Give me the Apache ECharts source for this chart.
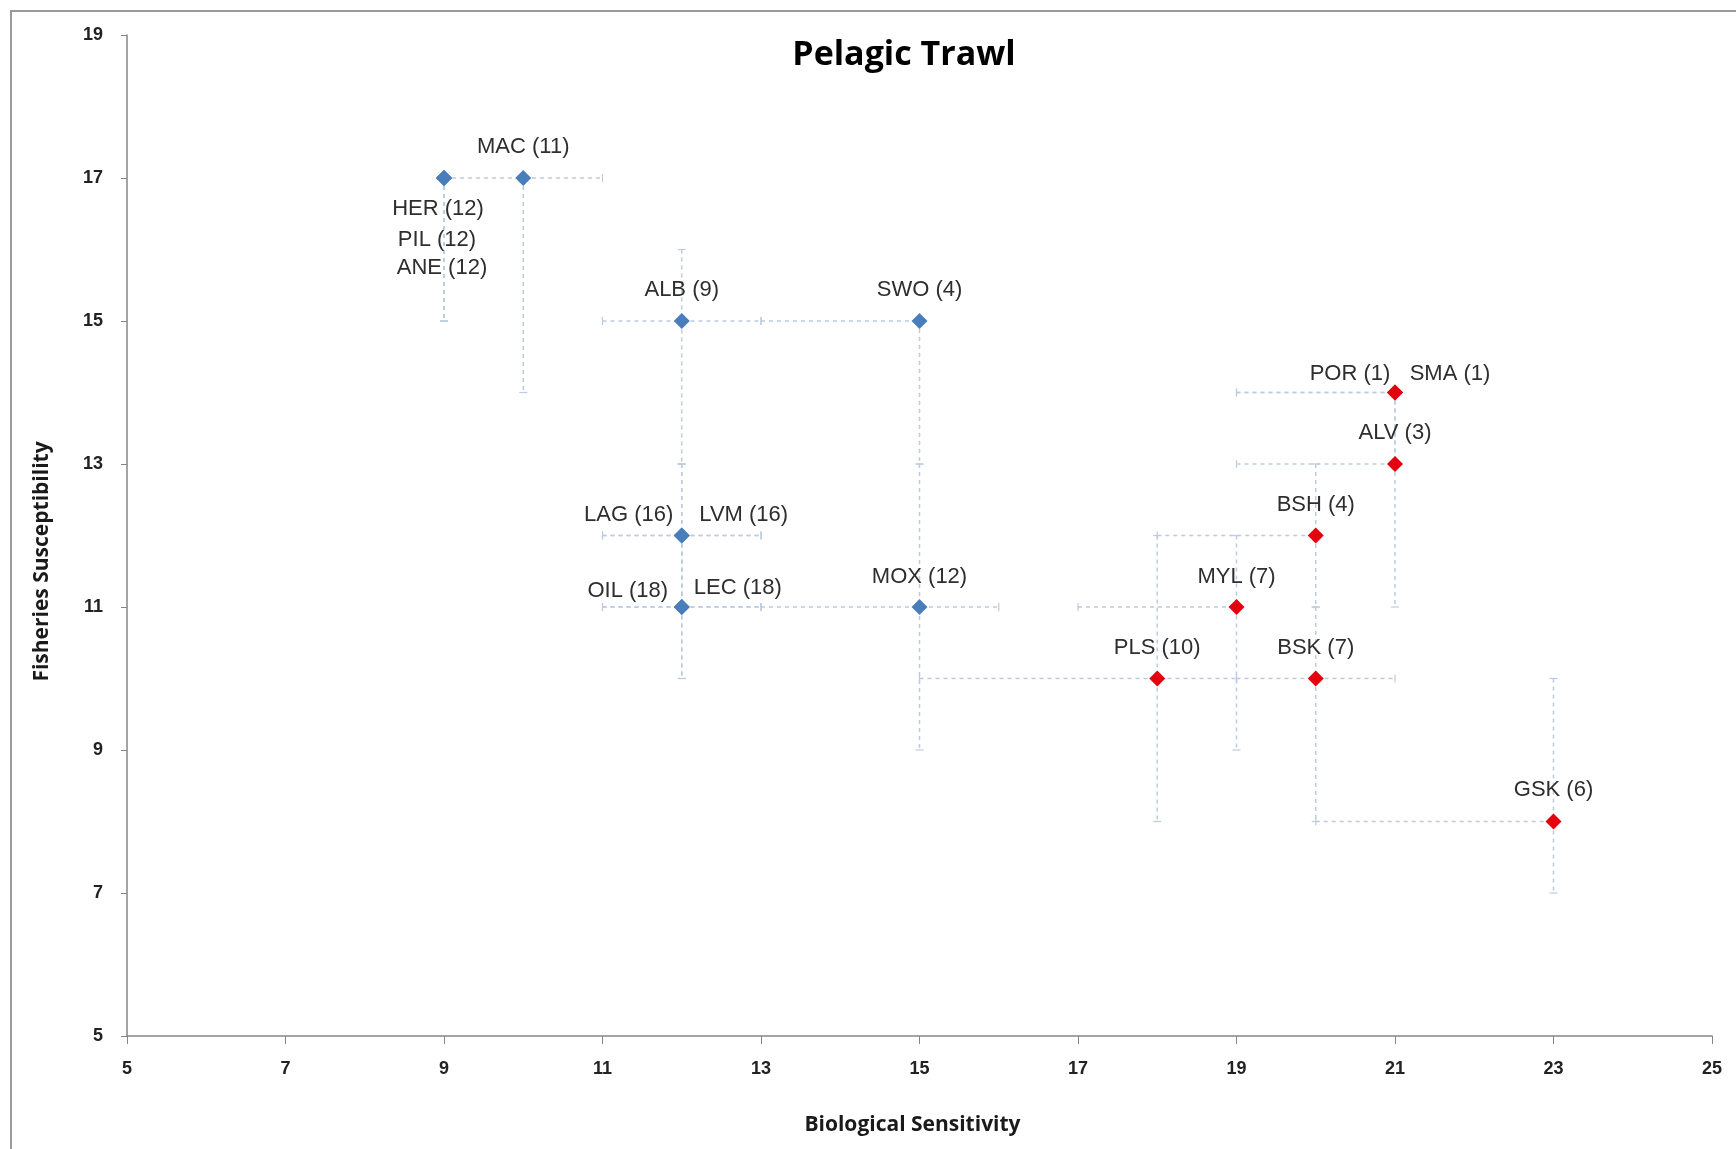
<!DOCTYPE html>
<html>
<head>
<meta charset="utf-8">
<title>Pelagic Trawl</title>
<script src="https://cdn.jsdelivr.net/npm/echarts@6/dist/echarts.min.js"></script>
<style>
  html, body { margin: 0; padding: 0; background: #ffffff; }
  #chart { width: 1736px; height: 1149px; }
</style>
</head>
<body>
<div id="chart"></div>
<script>
// Species codes with their rank (shown in brackets)
const species = ['MAC', 'HER', 'PIL', 'ANE', 'ALB', 'SWO', 'LAG', 'LVM', 'OIL', 'LEC', 'MOX',
                 'POR', 'SMA', 'ALV', 'BSH', 'MYL', 'PLS', 'BSK', 'GSK'];
const ranks = [11, 12, 12, 12, 9, 4, 16, 16, 18, 18, 12,
               1, 1, 3, 4, 7, 10, 7, 6];
// Elasmobranchs are drawn in red, all other species in blue
const isElasmobranch = [false, false, false, false, false, false, false, false, false, false, false,
                        true, true, true, true, true, true, true, true];

// Scores
const biologicalSensitivity = [10, 9, 9, 9, 12, 15, 12, 12, 12, 12, 15,
                               21, 21, 21, 20, 19, 18, 20, 23];
const fisheriesSusceptibility = [17, 17, 17, 17, 15, 15, 12, 12, 11, 11, 11,
                                 14, 14, 13, 12, 11, 10, 10, 8];

// Score ranges (error bars)
const biologicalLow  = [9, 9, 9, 9, 11, 13, 11, 11, 11, 11, 13,
                        19, 19, 19, 18, 17, 15, 19, 20];
const biologicalHigh = [11, 9, 9, 9, 13, 15, 13, 13, 13, 13, 16,
                        21, 21, 21, 20, 19, 19, 21, 23];
const fisheriesLow   = [14, 15, 15, 15, 13, 13, 11, 11, 10, 10, 9,
                        13, 13, 11, 11, 9, 8, 8, 7];
const fisheriesHigh  = [17, 17, 17, 17, 16, 15, 13, 13, 12, 12, 13,
                        14, 14, 13, 13, 12, 12, 11, 10];

// Axis ranges and ticks
const xTicks = [5, 7, 9, 11, 13, 15, 17, 19, 21, 23, 25];
const yTicks = [5, 7, 9, 11, 13, 15, 17, 19];

// Label centre relative to each marker centre (px)
const labelOffsets = {
  MAC: [0, -31], HER: [-6, 31], PIL: [-7, 62], ANE: [-2, 90],
  ALB: [0, -31], SWO: [0, -31], LAG: [-53, -21], LVM: [62, -21],
  OIL: [-54, -16], LEC: [56, -19], MOX: [0, -30],
  POR: [-45, -19], SMA: [55, -19], ALV: [0, -31], BSH: [0, -31],
  MYL: [0, -30], PLS: [0, -31], BSK: [0, -31], GSK: [0, -32]
};

const BLUE = '#4a7ebb';
const RED = '#e3000f';
const BAR_COLOR = '#bccbe0';
const SYMBOL_SIZE = 16;
const CAP = 4;

function pointsFor(red) {
  const out = [];
  species.forEach(function (code, i) {
    if (isElasmobranch[i] !== red) return;
    const off = labelOffsets[code] || [0, -30];
    out.push({
      name: code,
      value: [biologicalSensitivity[i], fisheriesSusceptibility[i]],
      label: {
        // position is measured from the symbol's top-left corner
        position: [SYMBOL_SIZE / 2 + off[0], SYMBOL_SIZE / 2 + off[1]],
        formatter: code + ' (' + ranks[i] + ')'
      }
    });
  });
  return out;
}

const barData = species.map(function (code, i) {
  return [biologicalSensitivity[i], fisheriesSusceptibility[i],
          biologicalLow[i], biologicalHigh[i], fisheriesLow[i], fisheriesHigh[i]];
});

function renderErrorBars(params, api) {
  const x = api.value(0), y = api.value(1);
  const pL = api.coord([api.value(2), y]);
  const pR = api.coord([api.value(3), y]);
  const pB = api.coord([x, api.value(4)]);
  const pT = api.coord([x, api.value(5)]);
  const style = { stroke: BAR_COLOR, lineWidth: 1.5, lineDash: [4, 4], fill: null };
  const capStyle = { stroke: BAR_COLOR, lineWidth: 1.2, fill: null };
  const children = [];
  if (pR[0] - pL[0] > 0.5) {
    children.push({ type: 'line', shape: { x1: pL[0], y1: pL[1], x2: pR[0], y2: pR[1] }, style: style });
    children.push({ type: 'line', shape: { x1: pL[0], y1: pL[1] - CAP, x2: pL[0], y2: pL[1] + CAP }, style: capStyle });
    children.push({ type: 'line', shape: { x1: pR[0], y1: pR[1] - CAP, x2: pR[0], y2: pR[1] + CAP }, style: capStyle });
  }
  if (pB[1] - pT[1] > 0.5) {
    children.push({ type: 'line', shape: { x1: pT[0], y1: pT[1], x2: pB[0], y2: pB[1] }, style: style });
    children.push({ type: 'line', shape: { x1: pT[0] - CAP, y1: pT[1], x2: pT[0] + CAP, y2: pT[1] }, style: capStyle });
    children.push({ type: 'line', shape: { x1: pB[0] - CAP, y1: pB[1], x2: pB[0] + CAP, y2: pB[1] }, style: capStyle });
  }
  return { type: 'group', children: children };
}

const labelStyle = {
  show: true,
  align: 'center',
  verticalAlign: 'middle',
  color: '#2e2e2e',
  fontFamily: "'Liberation Sans', Arial, sans-serif",
  fontSize: 22
};

const chart = echarts.init(document.getElementById('chart'), null, { renderer: 'canvas' });

chart.setOption({
  backgroundColor: '#ffffff',
  animation: false,
  title: {
    text: 'Pelagic Trawl',
    left: 899,
    top: 33,
    textAlign: 'center',
    textStyle: {
      fontFamily: "'Open Sans', sans-serif",
      fontWeight: 'bold',
      fontSize: 34,
      color: '#000000'
    }
  },
  graphic: [{
    type: 'rect',
    shape: { x: 11, y: 11, width: 1740, height: 1150 },
    style: { fill: null, stroke: '#9a9a9a', lineWidth: 2 },
    silent: true,
    z: -1
  }],
  grid: { left: 127, right: 24, top: 35, bottom: 113, containLabel: false },
  xAxis: {
    type: 'value',
    min: xTicks[0],
    max: xTicks[xTicks.length - 1],
    interval: 2,
    name: 'Biological Sensitivity',
    nameLocation: 'middle',
    nameGap: 79,
    nameTextStyle: {
      fontFamily: "'Open Sans', sans-serif",
      fontWeight: 'bold',
      fontSize: 21,
      color: '#1a1a1a',
      padding: [0, 14, 0, 0]
    },
    axisLine: { show: true, lineStyle: { color: '#868686', width: 1.5 } },
    axisTick: { show: true, inside: false, length: 8, lineStyle: { color: '#868686' } },
    axisLabel: {
      margin: 24,
      fontFamily: "'Liberation Sans', Arial, sans-serif",
      fontWeight: 'bold',
      fontSize: 18,
      color: '#222222'
    },
    splitLine: { show: false }
  },
  yAxis: {
    type: 'value',
    min: yTicks[0],
    max: yTicks[yTicks.length - 1],
    interval: 2,
    name: 'Fisheries Susceptibility',
    nameLocation: 'middle',
    nameGap: 74,
    nameRotate: 90,
    nameTextStyle: {
      fontFamily: "'Open Sans', sans-serif",
      fontWeight: 'bold',
      fontSize: 21,
      color: '#1a1a1a',
      padding: [0, 52, 0, 0]
    },
    axisLine: { show: true, lineStyle: { color: '#868686', width: 1.5 } },
    axisTick: { show: true, inside: false, length: 6, lineStyle: { color: '#868686' } },
    axisLabel: {
      margin: 24,
      fontFamily: "'Liberation Sans', Arial, sans-serif",
      fontWeight: 'bold',
      fontSize: 18,
      color: '#222222'
    },
    splitLine: { show: false }
  },
  series: [
    {
      name: 'Score ranges',
      type: 'custom',
      renderItem: renderErrorBars,
      data: barData,
      encode: { x: 0, y: 1 },
      silent: true,
      z: 1
    },
    {
      name: 'Other species',
      type: 'scatter',
      symbol: 'diamond',
      symbolSize: SYMBOL_SIZE,
      itemStyle: { color: BLUE, opacity: 1 },
      label: labelStyle,
      data: pointsFor(false),
      z: 3
    },
    {
      name: 'Elasmobranchs',
      type: 'scatter',
      symbol: 'diamond',
      symbolSize: SYMBOL_SIZE,
      itemStyle: { color: RED, opacity: 1 },
      label: labelStyle,
      data: pointsFor(true),
      z: 3
    }
  ]
});
</script>
</body>
</html>
